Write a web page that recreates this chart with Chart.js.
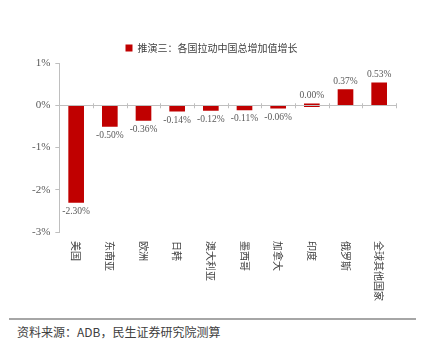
<!DOCTYPE html>
<html lang="zh">
<head>
  <meta charset="UTF-8" />
  <title>推演三：各国拉动中国总增加值增长</title>
  <script src="https://cdn.jsdelivr.net/npm/chart.js"></script>
  <style>
    body { margin: 0; background: #fff; width: 423px; height: 340px; overflow: hidden; }
    .chart-box { position: relative; width: 423px; height: 315px; }
    .source {
      position: absolute; left: 9px; top: 318px; width: 407px;
      border-top: 2px solid #a6a6a6;
      font-family: "Noto Sans CJK SC", sans-serif; font-size: 12px; color: #404040;
      padding: 3px 0 0 8px; box-sizing: border-box;
    }
  </style>
</head>
<body>
  <div class="chart-box"><canvas id="growthChart"></canvas></div>
  <div class="source">资料来源：ADB，民生证券研究院测算</div>

  <script>
    const countries = ["美国", "东南亚", "欧洲", "日韩", "澳大利亚", "墨西哥", "加拿大", "印度", "俄罗斯", "全球其他国家"];
    const growth = [-2.30, -0.50, -0.36, -0.14, -0.12, -0.11, -0.06, 0.00, 0.37, 0.53];
    const yTicks = [-3, -2, -1, 0, 1];
    const seriesName = "推演三：各国拉动中国总增加值增长";

    const axisGrey = "#bfbfbf";
    const textGrey = "#595959";

    // zero line, value labels and the vertical category names
    const extras = {
      id: "extras",
      afterDatasetsDraw(chart) {
        const { ctx, chartArea, scales: { x, y } } = chart;
        const y0 = y.getPixelForValue(0);
        const half = (x.getPixelForValue(1) - x.getPixelForValue(0)) / 2;
        ctx.save();
        ctx.strokeStyle = axisGrey;
        ctx.lineWidth = 1;
        ctx.beginPath();
        ctx.moveTo(chartArea.left, Math.round(y0) + 0.5);
        ctx.lineTo(chartArea.right, Math.round(y0) + 0.5);
        countries.forEach((c, i) => {
          const bx = Math.round(x.getPixelForValue(i) + half) + 0.5;
          ctx.moveTo(bx, y0 - 2);
          ctx.lineTo(bx, y0 + 3);
        });
        ctx.stroke();

        ctx.fillStyle = textGrey;
        ctx.font = "9.5px 'Liberation Serif', serif";
        ctx.textAlign = "center";
        ctx.textBaseline = "middle";
        chart.getDatasetMeta(0).data.forEach((bar, i) => {
          const v = growth[i];
          const top = Math.min(bar.y, bar.base);
          const bottom = Math.max(bar.y, bar.base);
          const ty = v >= 0 ? top - 8 : bottom + 9;
          ctx.fillText(v.toFixed(2) + "%", bar.x, ty);
        });

        ctx.fillStyle = "#404040";
        ctx.font = "10px 'Noto Sans CJK SC', sans-serif";
        ctx.textAlign = "left";
        countries.forEach((c, i) => {
          ctx.save();
          ctx.translate(x.getPixelForValue(i), chartArea.bottom + 9);
          ctx.rotate(Math.PI / 2);
          ctx.fillText(c, 0, 0);
          ctx.restore();
        });
        ctx.restore();
      }
    };

    new Chart(document.getElementById("growthChart"), {
      type: "bar",
      data: {
        labels: countries,
        datasets: [{
          label: seriesName,
          data: growth,
          backgroundColor: "#c00000",
          barThickness: 15,
          minBarLength: 3
        }]
      },
      options: {
        responsive: true,
        maintainAspectRatio: false,
        animation: false,
        layout: { padding: { top: 33, left: 27, right: 27, bottom: 75 } },
        plugins: {
          legend: {
            labels: {
              boxWidth: 7, boxHeight: 7, padding: 10,
              color: "#404040",
              font: { family: "'Noto Sans CJK SC', sans-serif", size: 10 }
            }
          },
          tooltip: { enabled: false }
        },
        scales: {
          x: {
            grid: { display: false },
            border: { display: false },
            ticks: { display: false }
          },
          y: {
            min: yTicks[0],
            max: yTicks[yTicks.length - 1],
            afterBuildTicks: (s) => { s.ticks = yTicks.map(v => ({ value: v })); },
            border: { color: axisGrey },
            grid: { drawOnChartArea: false, tickLength: 4, color: axisGrey },
            ticks: {
              padding: 5,
              color: textGrey,
              font: { family: "'Liberation Serif', serif", size: 11 },
              callback: (v) => v + "%"
            }
          }
        }
      },
      plugins: [extras]
    });
  </script>
</body>
</html>
